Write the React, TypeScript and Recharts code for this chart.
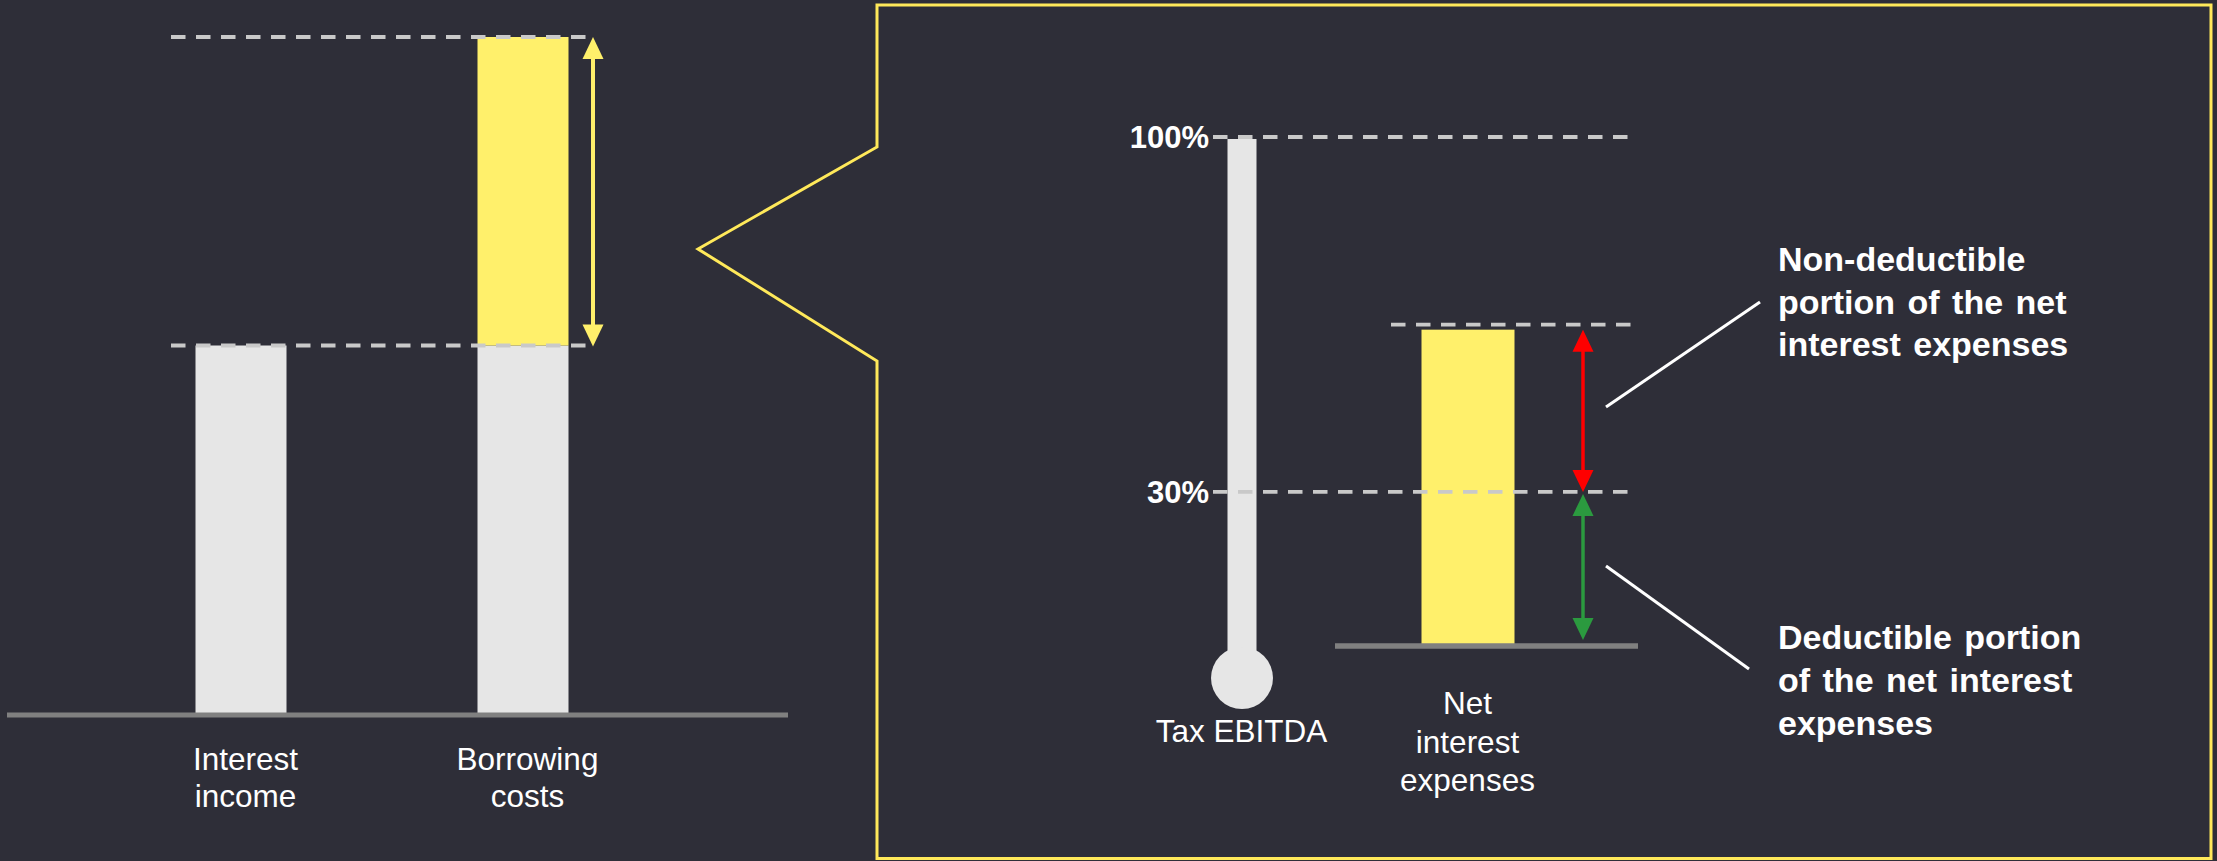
import React from "react";
import { BarChart, Bar, XAxis, YAxis, ReferenceLine, ReferenceArea } from "recharts";

// left panel: borrowing costs compared with interest income (same scale, top = 100)
const leftCategories = ["Interest\nincome", "Borrowing\ncosts"];
const coveredByIncome = [54.5, 54.5];
const excessBorrowing = [0, 45.5];

// right panel: net interest expenses against tax EBITDA (in % of EBITDA)
const rightCategories = ["Tax EBITDA", "Net\ninterest\nexpenses"];
const rightValues = [100, 62];
const pctTicks = [30, 100];
const capRate = 30;

const nonDeductibleText = ["Non-deductible", "portion of the net", "interest expenses"];
const deductibleText = ["Deductible portion", "of the net interest", "expenses"];

const BG = "#2e2e38";
const GREY = "#e6e6e6";
const YELLOW = "#fff06b";
const FRAME = "#ffe95a";
const DASH = "#c9c9c9";
const AXIS = "#808080";
const RED = "#ff0000";
const GREEN = "#2b9a3f";
const FONT = '"Liberation Sans", Arial, Helvetica, sans-serif';

const leftData = leftCategories.map((name, i) => ({
  name,
  base: coveredByIncome[i],
  excess: excessBorrowing[i],
}));
const leftTop = coveredByIncome[1] + excessBorrowing[1];

const rightData = rightCategories.map((name, i) => ({ name, value: rightValues[i] }));

function DashLine({ y, x1, x2 }: { y: number; x1: number; x2: number }) {
  return <line x1={x1} x2={x2} y1={y} y2={y} stroke={DASH} strokeWidth={3.8} strokeDasharray="14.5 10.5" />;
}

function DoubleArrow({ x, top, bottom, color, sw = 4 }: any) {
  const hw = 10.5;
  const hh = 22;
  return (
    <g>
      <line x1={x} x2={x} y1={top + hh - 2} y2={bottom - hh + 2} stroke={color} strokeWidth={sw} />
      <polygon points={`${x},${top} ${x - hw},${top + hh} ${x + hw},${top + hh}`} fill={color} />
      <polygon points={`${x},${bottom} ${x - hw},${bottom - hh} ${x + hw},${bottom - hh}`} fill={color} />
    </g>
  );
}

function LeftTick(props: any) {
  const { x, y, payload } = props;
  const lines = String(payload.value).split("\n");
  return (
    <text x={x + 5} y={y + 55} textAnchor="middle" fill="#ffffff" fontSize={31.5} fontFamily={FONT}>
      {lines.map((l, i) => (
        <tspan key={i} x={x + 5} dy={i === 0 ? 0 : 37}>
          {l}
        </tspan>
      ))}
    </text>
  );
}

function RightTick(props: any) {
  const { x, y, payload } = props;
  const lines = String(payload.value).split("\n");
  // the single-line label sits below the thermometer bulb
  const first = lines.length === 1 ? 98 : 70;
  return (
    <text x={x} y={y + first} textAnchor="middle" fill="#ffffff" fontSize={31.5} fontFamily={FONT}>
      {lines.map((l, i) => (
        <tspan key={i} x={x} dy={i === 0 ? 0 : 38.5}>
          {l}
        </tspan>
      ))}
    </text>
  );
}

function PctTick(props: any) {
  const { y, payload } = props;
  return (
    <text x={1209} y={y} dy="0.36em" textAnchor="end" fill="#ffffff" fontSize={31} fontWeight={700} fontFamily={FONT}>
      {payload.value}%
    </text>
  );
}

function RightBar(props: any) {
  const { x, y, width, height, index } = props;
  const cx = x + width / 2;
  if (index === 0) {
    const w = 29;
    return (
      <g>
        <rect x={cx - w / 2} y={y + 2} width={w} height={height + 10} fill={GREY} />
        <circle cx={cx} cy={y + height + 34} r={31} fill={GREY} />
      </g>
    );
  }
  return <rect x={x} y={y} width={width} height={height} fill={YELLOW} />;
}

function Decor() {
  return (
    <svg width={2217} height={861} style={{ position: "absolute", left: 0, top: 0 }}>
      <polygon
        points="877,5 2211,5 2211,858.5 877,858.5 877,361 698,249 877,147"
        fill="none"
        stroke={FRAME}
        strokeWidth={3}
      />
      <line x1={1606} y1={407} x2={1760} y2={302} stroke="#ffffff" strokeWidth={3} />
      <line x1={1606} y1={566} x2={1749} y2={669} stroke="#ffffff" strokeWidth={3} />
      <text x={1778} y={271} fill="#ffffff" fontSize={34} fontWeight={700} fontFamily={FONT} wordSpacing={3}>
        {nonDeductibleText.map((l, i) => (
          <tspan key={i} x={1778} dy={i === 0 ? 0 : 42.5}>
            {l}
          </tspan>
        ))}
      </text>
      <text x={1778} y={649} fill="#ffffff" fontSize={34} fontWeight={700} fontFamily={FONT} wordSpacing={3}>
        {deductibleText.map((l, i) => (
          <tspan key={i} x={1778} dy={i === 0 ? 0 : 43}>
            {l}
          </tspan>
        ))}
      </text>
    </svg>
  );
}

export default function App() {
  return (
    <div
      style={{
        position: "absolute",
        left: 0,
        top: 0,
        width: 2217,
        height: 861,
        background: BG,
        fontFamily: FONT,
        overflow: "hidden",
      }}
    >
      <Decor />
      <div style={{ position: "absolute", left: 0, top: 0 }}>
        <BarChart width={800} height={861} data={leftData} margin={{ top: 37, right: 12, bottom: 0, left: 7 }}>
          <XAxis
            dataKey="name"
            height={146}
            padding={{ left: 92.5, right: 124.5 }}
            axisLine={{ stroke: AXIS, strokeWidth: 5 }}
            tickLine={false}
            tickSize={0}
            tickMargin={0}
            interval={0}
            tick={(p: any) => <LeftTick {...p} />}
          />
          <YAxis hide domain={[0, 100]} />
          <Bar dataKey="base" stackId="a" fill={GREY} barSize={91} isAnimationActive={false} />
          <Bar dataKey="excess" stackId="a" fill={YELLOW} barSize={91} isAnimationActive={false} />
          <ReferenceLine
            y={leftTop}
            ifOverflow="visible"
            shape={(p: any) => <DashLine y={p.y1} x1={171} x2={594} />}
          />
          <ReferenceLine
            y={coveredByIncome[1]}
            ifOverflow="visible"
            shape={(p: any) => <DashLine y={p.y1} x1={171} x2={594} />}
          />
          <ReferenceArea
            y1={coveredByIncome[1]}
            y2={leftTop}
            ifOverflow="visible"
            shape={(p: any) => <DoubleArrow x={593} top={p.y} bottom={p.y + p.height + 1} color={YELLOW} sw={4} />}
          />
        </BarChart>
      </div>
      <div style={{ position: "absolute", left: 0, top: 0 }}>
        <BarChart
          width={2217}
          height={861}
          data={rightData}
          margin={{ top: 137, right: 636.5, bottom: 0, left: 1068.5 }}
        >
          <XAxis
            dataKey="name"
            height={217}
            axisLine={false}
            tickLine={false}
            tickSize={0}
            tickMargin={0}
            interval={0}
            tick={(p: any) => <RightTick {...p} />}
          />
          <YAxis
            domain={[0, 100]}
            ticks={pctTicks}
            width={60}
            axisLine={false}
            tickLine={false}
            tick={(p: any) => <PctTick {...p} />}
          />
          <Bar dataKey="value" barSize={93} shape={(p: any) => <RightBar {...p} />} isAnimationActive={false} />
          <ReferenceLine
            y={0}
            ifOverflow="visible"
            shape={(p: any) => (
              <line x1={1335} x2={1638} y1={p.y1 + 2} y2={p.y1 + 2} stroke={AXIS} strokeWidth={5.5} />
            )}
          />
          {pctTicks.map((t) => (
            <ReferenceLine
              key={t}
              y={t}
              ifOverflow="visible"
              shape={(p: any) => <DashLine y={p.y1} x1={1213} x2={1636} />}
            />
          ))}
          <ReferenceLine
            y={rightValues[1]}
            ifOverflow="visible"
            shape={(p: any) => <DashLine y={p.y1 - 5} x1={1391} x2={1636} />}
          />
          <ReferenceArea
            y1={capRate}
            y2={rightValues[1]}
            ifOverflow="visible"
            shape={(p: any) => <DoubleArrow x={1583} top={p.y} bottom={p.y + p.height} color={RED} sw={3.5} />}
          />
          <ReferenceArea
            y1={0}
            y2={capRate}
            ifOverflow="visible"
            shape={(p: any) => <DoubleArrow x={1583} top={p.y + 2} bottom={p.y + p.height - 4} color={GREEN} sw={3.5} />}
          />
        </BarChart>
      </div>
    </div>
  );
}
